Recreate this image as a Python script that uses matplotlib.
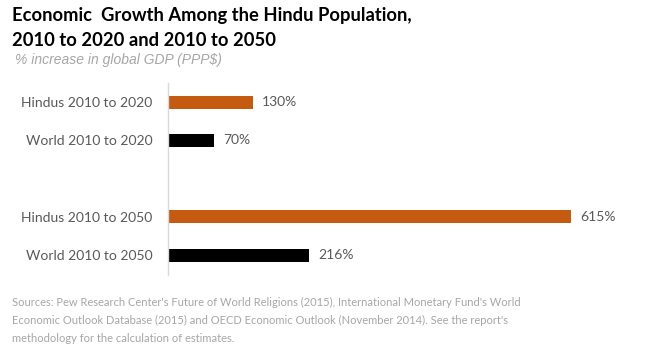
import matplotlib.pyplot as plt

# chart data
labels = ["Hindus 2010 to 2020", "World 2010 to 2020", "Hindus 2010 to 2050", "World 2010 to 2050"]
values = [130, 70, 615, 216]
value_labels = ["130%", "70%", "615%", "216%"]
positions = [0, 1, 3, 4]
colors = ["#C55A11", "#000000", "#C55A11", "#000000"]

fig = plt.figure(figsize=(6.54, 3.55), dpi=100)
ax = fig.add_axes([0.2569, 0.2254, 0.701, 0.5408])

ax.barh(positions, values, height=0.34, color=colors)
ax.set_xlim(0, 700)
ax.set_ylim(4.52, -0.5)

for p, v, t in zip(positions, values, value_labels):
    ax.text(v + 14, p, t, va="center", ha="left", fontsize=10,
            color="#595959", family="Lato")

ax.set_yticks(positions)
ax.set_yticklabels(labels, fontsize=10, color="#595959", family="Lato")
ax.tick_params(axis="y", length=0, pad=11)
ax.set_xticks([])
for s in ["top", "right", "bottom"]:
    ax.spines[s].set_visible(False)
ax.spines["left"].set_color("#D9D9D9")
ax.spines["left"].set_linewidth(1)

# titles
fig.text(12 / 654, 1 - 7 / 355, "Economic  Growth Among the Hindu Population,\n2010 to 2020 and 2010 to 2050",
         ha="left", va="top", fontsize=13.2, fontweight="bold", family="Lato",
         color="#000000", linespacing=1.55)
fig.text(15 / 654, 1 - 60 / 355, "% increase in global GDP (PPP$)", ha="left", va="center",
         fontsize=10, style="italic", color="#A6A6A6", family="Liberation Sans")

source = ("Sources: Pew Research Center's Future of World Religions (2015), International Monetary Fund's World\n"
          "Economic Outlook Database (2015) and OECD Economic Outlook (November 2014). See the report's\n"
          "methodology for the calculation of estimates.")
fig.text(12 / 654, 1 - 297 / 355, source, ha="left", va="top", fontsize=8,
         color="#A6A6A6", family="Lato", linespacing=1.75)

fig.savefig("out.png", dpi=100)
